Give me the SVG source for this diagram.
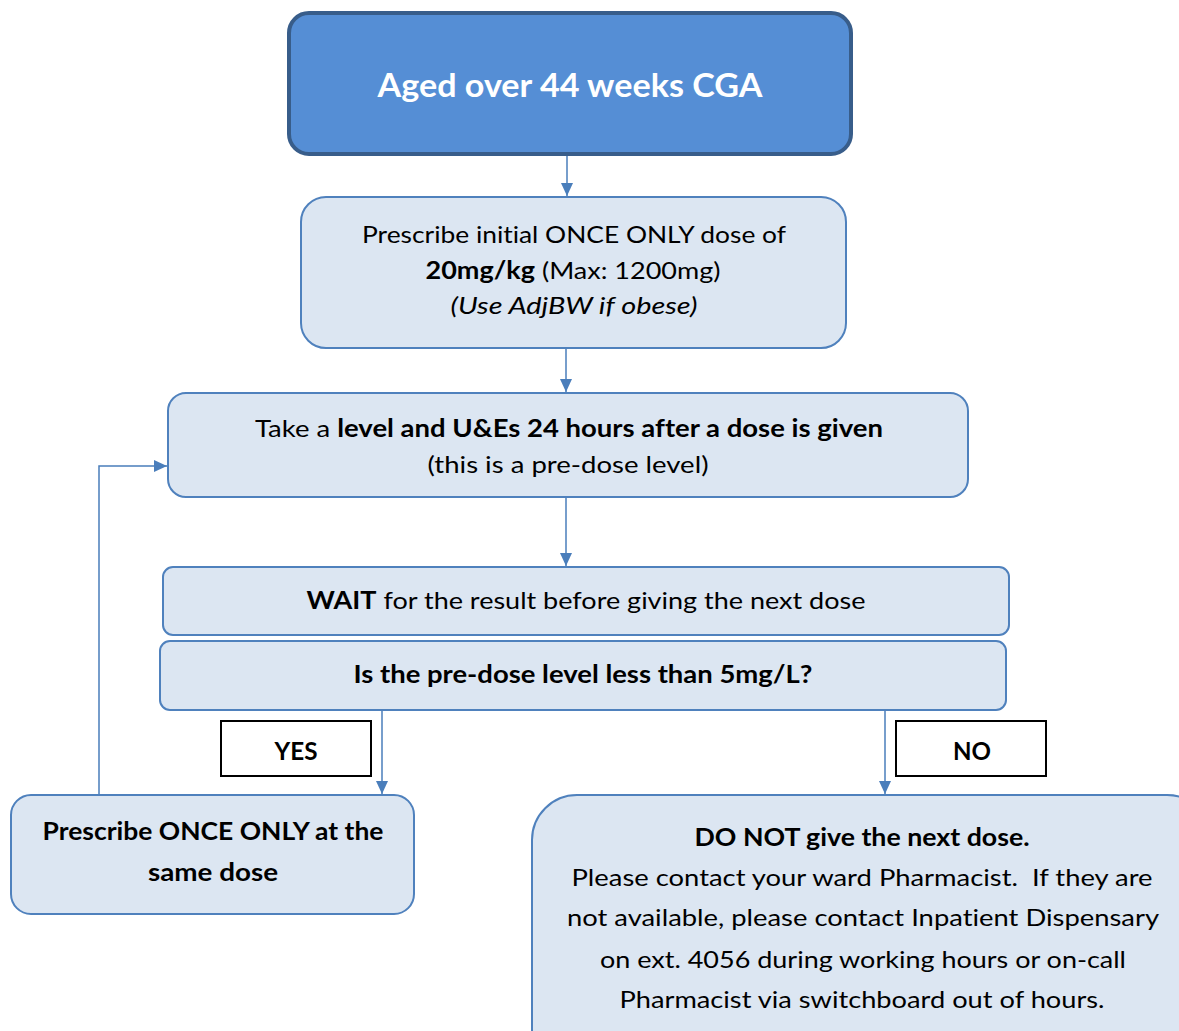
<svg xmlns="http://www.w3.org/2000/svg" width="1179" height="1031" viewBox="0 0 1179 1031">
<style>
.box{fill:#DCE6F2;stroke:#4F81BD;stroke-width:2}
.top{fill:#558ED5;stroke:#385D8A;stroke-width:4}
.lbl{fill:#fff;stroke:#000;stroke-width:2}
text{font-family:Lato,"Liberation Sans",sans-serif;font-size:24px;fill:#000;text-anchor:middle;font-variant-ligatures:none}
.b{font-weight:bold}
.i{font-style:italic}
.w{fill:#fff;font-size:32px;font-weight:bold}
.con{fill:none;stroke:#4A7EBB;stroke-width:1.5}
</style>
<defs>
<marker id="ah" markerUnits="userSpaceOnUse" markerWidth="14" markerHeight="14" viewBox="0 0 14 14" refX="13" refY="7" orient="auto">
<path d="M0,1 L13,7 L0,13 Z" fill="#4A7EBB"/>
</marker>
</defs>
<g id="connectors">
<path class="con" d="M567,154 V196" marker-end="url(#ah)"/>
<path class="con" d="M566,348 V392" marker-end="url(#ah)"/>
<path class="con" d="M566,497 V566" marker-end="url(#ah)"/>
<path class="con" d="M382,710 V794" marker-end="url(#ah)"/>
<path class="con" d="M885,710 V794" marker-end="url(#ah)"/>
<path class="con" d="M99,795 V466 H167" marker-end="url(#ah)"/>
</g>
<g id="n1">
<rect class="top" x="289" y="13" width="562" height="141" rx="20"/>
<text class="w" x="570" y="97" textLength="385" lengthAdjust="spacingAndGlyphs">Aged over 44 weeks CGA</text>
</g>
<g id="n2">
<rect class="box" x="301" y="197" width="545" height="151" rx="25"/>
<text x="574" y="243" textLength="424" lengthAdjust="spacingAndGlyphs">Prescribe initial ONCE ONLY dose of</text>
<text x="573" y="279" textLength="295" lengthAdjust="spacingAndGlyphs"><tspan class="b">20mg/kg</tspan> (Max: 1200mg)</text>
<text class="i" x="574" y="314" textLength="247" lengthAdjust="spacingAndGlyphs">(Use AdjBW if obese)</text>
</g>
<g id="n3">
<rect class="box" x="168" y="393" width="800" height="104" rx="18"/>
<text x="569" y="437" textLength="628" lengthAdjust="spacingAndGlyphs">Take a <tspan class="b">level and U&amp;Es 24 hours after a dose is given</tspan></text>
<text x="568" y="473" textLength="281" lengthAdjust="spacingAndGlyphs">(this is a pre-dose level)</text>
</g>
<g id="n4">
<rect class="box" x="163" y="567" width="846" height="68" rx="10"/>
<text x="586" y="609" textLength="559" lengthAdjust="spacingAndGlyphs"><tspan class="b">WAIT</tspan> for the result before giving the next dose</text>
</g>
<g id="n5">
<rect class="box" x="160" y="641" width="846" height="69" rx="10"/>
<text class="b" x="583" y="683" textLength="459" lengthAdjust="spacingAndGlyphs">Is the pre-dose level less than 5mg/L?</text>
</g>
<g id="yes">
<rect class="lbl" x="221" y="721" width="150" height="55"/>
<text class="b" x="296" y="760" textLength="43" lengthAdjust="spacingAndGlyphs">YES</text>
</g>
<g id="no">
<rect class="lbl" x="896" y="721" width="150" height="55"/>
<text class="b" x="972" y="760" textLength="38" lengthAdjust="spacingAndGlyphs">NO</text>
</g>
<g id="n6">
<rect class="box" x="11" y="795" width="403" height="119" rx="20"/>
<text class="b" x="213" y="840" textLength="341" lengthAdjust="spacingAndGlyphs">Prescribe ONCE ONLY at the</text>
<text class="b" x="213" y="881" textLength="130" lengthAdjust="spacingAndGlyphs">same dose</text>
</g>
<g id="n7">
<rect class="box" x="532" y="795" width="680" height="280" rx="45"/>
<text class="b" x="862" y="846" textLength="335" lengthAdjust="spacingAndGlyphs">DO NOT give the next dose.</text>
<text x="862" y="886" textLength="581" lengthAdjust="spacingAndGlyphs" xml:space="preserve">Please contact your ward Pharmacist.  If they are</text>
<text x="863" y="926" textLength="592" lengthAdjust="spacingAndGlyphs">not available, please contact Inpatient Dispensary</text>
<text x="863" y="968" textLength="526" lengthAdjust="spacingAndGlyphs">on ext. 4056 during working hours or on-call</text>
<text x="862" y="1008" textLength="485" lengthAdjust="spacingAndGlyphs">Pharmacist via switchboard out of hours.</text>
</g>
</svg>
